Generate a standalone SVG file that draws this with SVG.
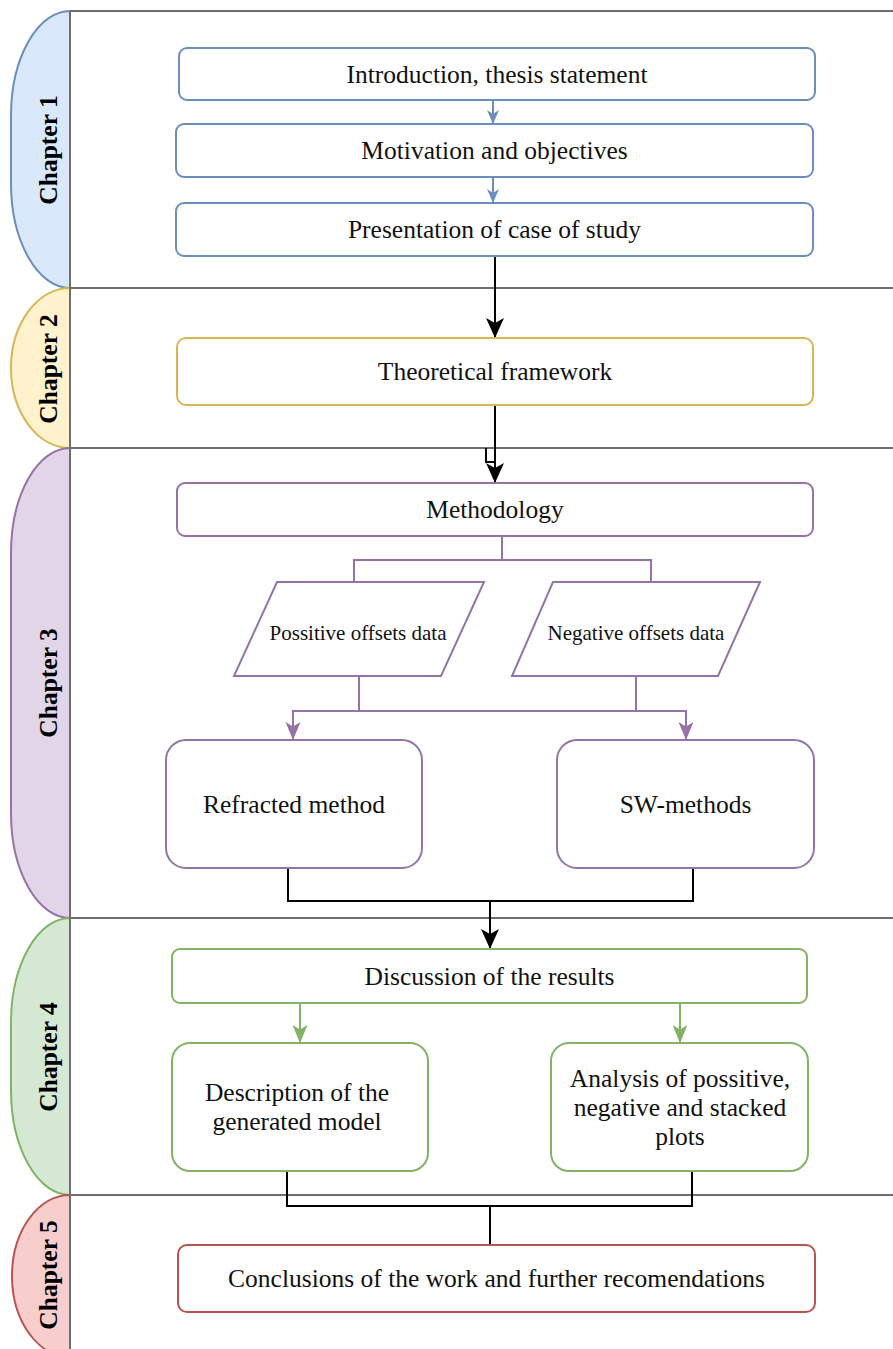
<svg xmlns="http://www.w3.org/2000/svg" width="893" height="1349" viewBox="0 0 893 1349">
<style>
  .lane { fill: none; stroke: #6e6e6e; stroke-width: 2; }
  .chap { font-family: "Liberation Serif", "Times New Roman", serif; font-size: 25.5px; font-weight: bold; fill: #000; text-anchor: middle; }
  .t { font-family: "Liberation Serif", "Times New Roman", serif; font-size: 25.5px; fill: #111; text-anchor: middle; }
  .ts { font-family: "Liberation Serif", "Times New Roman", serif; font-size: 21px; fill: #111; text-anchor: middle; }
  .box { fill: #fff; stroke-width: 2; }
  .blue { stroke: #6c8ebf; }
  .yellow { stroke: #d6b656; }
  .purple { stroke: #9673a6; }
  .green { stroke: #82b366; }
  .red { stroke: #b85450; }
  .k { fill: none; stroke: #000; stroke-width: 2; }
  .cb { fill: none; stroke: #6c8ebf; stroke-width: 2; }
  .cp { fill: none; stroke: #9673a6; stroke-width: 2; }
  .cg { fill: none; stroke: #82b366; stroke-width: 2; }
</style>
<defs>
  <marker id="ak" markerUnits="userSpaceOnUse" markerWidth="22" markerHeight="20" refX="20" refY="10" orient="auto" viewBox="0 0 22 20">
    <path d="M0,1 L20,10 L0,19 L5,10 Z" fill="#000"/>
  </marker>
  <marker id="ab" markerUnits="userSpaceOnUse" markerWidth="16" markerHeight="14" refX="14" refY="7" orient="auto" viewBox="0 0 16 14">
    <path d="M0,1 L14,7 L0,13 L4,7 Z" fill="#6c8ebf"/>
  </marker>
  <marker id="ap" markerUnits="userSpaceOnUse" markerWidth="20" markerHeight="18" refX="18" refY="9" orient="auto" viewBox="0 0 20 18">
    <path d="M0,1.5 L18,9 L0,16.5 L4.5,9 Z" fill="#9673a6"/>
  </marker>
  <marker id="ag" markerUnits="userSpaceOnUse" markerWidth="20" markerHeight="18" refX="18" refY="9" orient="auto" viewBox="0 0 20 18">
    <path d="M0,1.5 L18,9 L0,16.5 L4.5,9 Z" fill="#82b366"/>
  </marker>
</defs>
<rect x="0" y="0" width="893" height="1349" fill="#fff"/>

<g id="lanes">
  <g id="chapter1">
    <path d="M70,11 A59,105 0 0 0 11,116 V183 A59,105 0 0 0 70,288 Z" fill="#dae8fc" stroke="#6c8ebf" stroke-width="2"/>
    <text class="chap" x="56.5" y="150" transform="rotate(-90 56.5 150)">Chapter 1</text>
  </g>
  <g id="chapter2">
    <path d="M70,288 A59,80 0 0 0 11,368 A59,80 0 0 0 70,448 Z" fill="#fff2cc" stroke="#d6b656" stroke-width="2"/>
    <text class="chap" x="56.5" y="369" transform="rotate(-90 56.5 369)">Chapter 2</text>
  </g>
  <g id="chapter3">
    <path d="M70,448 A59,105 0 0 0 11,553 V813 A59,105 0 0 0 70,918 Z" fill="#e1d5e7" stroke="#9673a6" stroke-width="2"/>
    <text class="chap" x="56.5" y="683" transform="rotate(-90 56.5 683)">Chapter 3</text>
  </g>
  <g id="chapter4">
    <path d="M70,918 A59,105 0 0 0 11,1023 V1090 A59,105 0 0 0 70,1195 Z" fill="#d5e8d4" stroke="#82b366" stroke-width="2"/>
    <text class="chap" x="56.5" y="1057" transform="rotate(-90 56.5 1057)">Chapter 4</text>
  </g>
  <g id="chapter5">
    <path d="M70,1195 A58,81 0 0 0 12,1276 A58,81 0 0 0 70,1357 Z" fill="#f8cecc" stroke="#b85450" stroke-width="2"/>
    <text class="chap" x="56.5" y="1275" transform="rotate(-90 56.5 1275)">Chapter 5</text>
  </g>
  <path class="lane" d="M70,11 H895 M70,288 H895 M70,448 H895 M70,918 H895 M70,1195 H895 M70,11 V1351"/>
</g>

<g id="connectors">
  <path class="cb" d="M493,100 V124" marker-end="url(#ab)"/>
  <path class="cb" d="M493,177 V203" marker-end="url(#ab)"/>
  <path class="k" d="M495,256 V338" marker-end="url(#ak)"/>
  <path class="k" d="M495,405 V483" marker-end="url(#ak)"/>
  <path class="k" d="M486,448 V462 H495" stroke-width="1.5"/>
  <path class="cp" d="M502,536 V560 M354,560 H651 M354,559 V582 M651,559 V582"/>
  <path class="cp" d="M359,676 V711 M636,676 V711 M293,711 H686"/>
  <path class="cp" d="M293,710 V740" marker-end="url(#ap)"/>
  <path class="cp" d="M686,710 V740" marker-end="url(#ap)"/>
  <path class="k" d="M288,868 V901 H693 V868"/>
  <path class="k" d="M490,901 V949" marker-end="url(#ak)"/>
  <path class="cg" d="M300,1003 V1043" marker-end="url(#ag)"/>
  <path class="cg" d="M680,1003 V1043" marker-end="url(#ag)"/>
  <path class="k" d="M287,1171 V1206 H692 V1171 M490,1206 V1245"/>
</g>

<g id="intro">
  <rect class="box blue" x="179" y="48" width="636" height="52" rx="8"/>
  <text class="t" x="497" y="83">Introduction, thesis statement</text>
</g>
<g id="motivation">
  <rect class="box blue" x="176" y="124" width="637" height="53" rx="8"/>
  <text class="t" x="494.5" y="159">Motivation and objectives</text>
</g>
<g id="presentation">
  <rect class="box blue" x="176" y="203" width="637" height="53" rx="8"/>
  <text class="t" x="494.5" y="238">Presentation of case of study</text>
</g>
<g id="theoretical">
  <rect class="box yellow" x="177" y="338" width="636" height="67" rx="9"/>
  <text class="t" x="495" y="380">Theoretical framework</text>
</g>
<g id="methodology">
  <rect class="box purple" x="177" y="483" width="636" height="53" rx="8"/>
  <text class="t" x="495" y="518">Methodology</text>
</g>
<g id="positive">
  <polygon class="box purple" points="277,582 484,582 441,676 234,676"/>
  <text class="ts" x="358" y="640">Possitive offsets data</text>
</g>
<g id="negative">
  <polygon class="box purple" points="553,582 760,582 718,676 512,676"/>
  <text class="ts" x="636" y="640">Negative offsets data</text>
</g>
<g id="refracted">
  <rect class="box purple" x="166" y="740" width="256" height="128" rx="20"/>
  <text class="t" x="294" y="813">Refracted method</text>
</g>
<g id="sw">
  <rect class="box purple" x="557" y="740" width="257" height="128" rx="20"/>
  <text class="t" x="685.5" y="813">SW-methods</text>
</g>
<g id="discussion">
  <rect class="box green" x="172" y="949" width="635" height="54" rx="8"/>
  <text class="t" x="489.5" y="985">Discussion of the results</text>
</g>
<g id="description">
  <rect class="box green" x="172" y="1043" width="256" height="128" rx="18"/>
  <text class="t" x="297" y="1101">Description of the</text>
  <text class="t" x="297" y="1130">generated model</text>
</g>
<g id="analysis">
  <rect class="box green" x="551" y="1043" width="257" height="128" rx="18"/>
  <text class="t" x="680" y="1087">Analysis of possitive,</text>
  <text class="t" x="680" y="1116">negative and stacked</text>
  <text class="t" x="680" y="1145">plots</text>
</g>
<g id="conclusions">
  <rect class="box red" x="178" y="1245" width="637" height="67" rx="9"/>
  <text class="t" x="496.5" y="1287">Conclusions of the work and further recomendations</text>
</g>
</svg>
